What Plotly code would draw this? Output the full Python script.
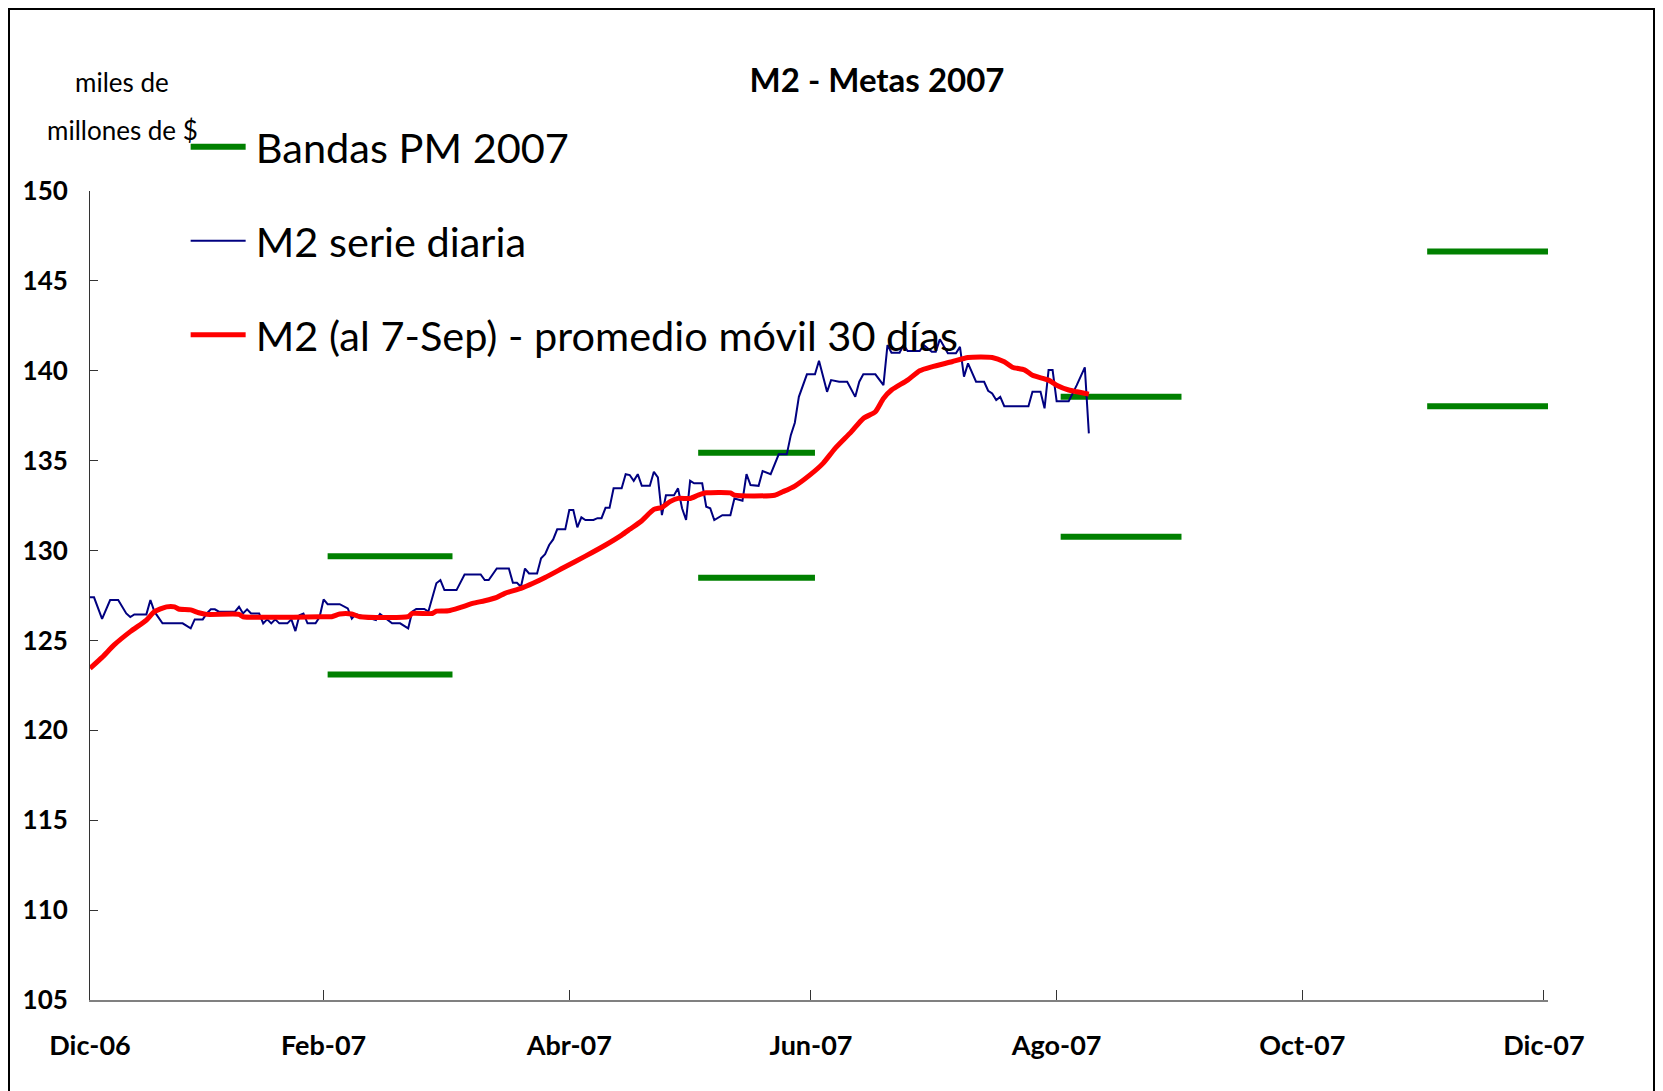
import plotly.graph_objects as go

# ---------------- data ----------------
blue_dates = [
    "2006-12-05", "2006-12-06", "2006-12-08", "2006-12-10", "2006-12-12", "2006-12-14", "2006-12-15",
    "2006-12-16", "2006-12-19", "2006-12-20", "2006-12-21", "2006-12-23", "2006-12-28", "2006-12-30",
    "2006-12-31",
    "2007-01-02", "2007-01-03", "2007-01-04", "2007-01-05", "2007-01-06", "2007-01-10", "2007-01-11",
    "2007-01-12", "2007-01-13", "2007-01-14", "2007-01-16", "2007-01-17", "2007-01-18", "2007-01-19",
    "2007-01-20", "2007-01-21", "2007-01-23", "2007-01-24", "2007-01-25", "2007-01-26", "2007-01-27",
    "2007-01-28", "2007-01-30", "2007-01-31",
    "2007-02-01", "2007-02-02", "2007-02-05", "2007-02-07", "2007-02-08", "2007-02-09", "2007-02-10",
    "2007-02-12", "2007-02-14", "2007-02-15", "2007-02-16", "2007-02-18", "2007-02-20", "2007-02-22",
    "2007-02-23", "2007-02-24", "2007-02-26", "2007-02-27",
    "2007-03-01", "2007-03-02", "2007-03-03", "2007-03-06", "2007-03-08", "2007-03-12", "2007-03-13",
    "2007-03-14", "2007-03-16", "2007-03-19", "2007-03-20", "2007-03-21", "2007-03-22", "2007-03-23",
    "2007-03-24", "2007-03-26", "2007-03-27", "2007-03-28", "2007-03-29", "2007-03-30", "2007-03-31",
    "2007-04-02", "2007-04-03", "2007-04-04", "2007-04-05", "2007-04-06", "2007-04-07", "2007-04-09",
    "2007-04-10", "2007-04-11", "2007-04-12", "2007-04-13", "2007-04-14", "2007-04-16", "2007-04-17",
    "2007-04-18", "2007-04-19", "2007-04-20", "2007-04-21", "2007-04-23", "2007-04-24", "2007-04-25",
    "2007-04-26", "2007-04-27", "2007-04-29", "2007-04-30",
    "2007-05-01", "2007-05-02", "2007-05-03", "2007-05-04", "2007-05-06", "2007-05-07", "2007-05-08",
    "2007-05-09", "2007-05-11", "2007-05-13", "2007-05-14", "2007-05-16", "2007-05-17", "2007-05-18",
    "2007-05-20", "2007-05-21", "2007-05-23", "2007-05-25", "2007-05-27", "2007-05-28", "2007-05-29",
    "2007-05-30",
    "2007-06-01", "2007-06-03", "2007-06-04", "2007-06-06", "2007-06-07", "2007-06-09", "2007-06-11",
    "2007-06-13", "2007-06-14", "2007-06-15", "2007-06-18", "2007-06-19", "2007-06-20", "2007-06-21",
    "2007-06-22", "2007-06-24", "2007-06-25", "2007-06-26", "2007-06-29", "2007-06-30",
    "2007-07-02", "2007-07-03", "2007-07-04", "2007-07-06", "2007-07-08", "2007-07-09", "2007-07-10",
    "2007-07-11", "2007-07-13", "2007-07-15", "2007-07-16", "2007-07-17", "2007-07-18", "2007-07-19",
    "2007-07-20", "2007-07-26", "2007-07-27", "2007-07-29", "2007-07-30", "2007-07-31",
    "2007-08-01", "2007-08-02", "2007-08-05", "2007-08-07", "2007-08-09", "2007-08-10",
]
blue_values = [
    127.4, 127.4, 126.2, 127.25, 127.25, 126.5, 126.3, 126.45, 126.45, 127.25, 126.6, 125.95, 125.95,
    125.67, 126.17,
    126.17, 126.5, 126.73, 126.73, 126.6, 126.6, 126.87, 126.5, 126.73, 126.5, 126.5, 125.95, 126.17,
    125.95, 126.17, 125.95, 125.95, 126.17, 125.52, 126.4, 126.5, 125.95, 125.95, 126.3,
    127.28, 127.02, 127.02, 126.78, 126.22, 126.47, 126.4, 126.3, 126.13, 126.47, 126.3, 125.95, 125.95,
    125.67, 126.6, 126.75, 126.75, 126.6,
    128.18, 128.36, 127.8, 127.8, 128.67, 128.67, 128.36, 128.36, 129.0, 129.0, 128.21, 128.21, 127.99,
    129.0, 128.73, 128.73, 129.57, 129.8, 130.31, 130.62, 131.18,
    131.18, 132.25, 132.25, 131.29, 131.85, 131.7, 131.7, 131.8, 131.8, 132.38, 132.38, 133.46, 133.46,
    134.25, 134.2, 133.88, 134.25, 133.6, 133.6, 134.38, 134.07, 131.97, 133.08, 133.08, 133.46,
    132.35, 131.7, 133.88, 133.74, 133.74, 132.44, 132.35, 131.7, 131.97, 131.97, 132.9, 132.77, 134.25,
    133.64, 133.6, 134.42, 134.25, 135.35, 135.35, 136.42, 137.11, 138.55,
    139.8, 139.8, 140.56, 138.83, 139.48, 139.39, 139.39, 138.55, 139.39, 139.8, 139.8, 139.48, 139.2,
    141.43, 141.0, 141.0, 141.43, 141.1, 141.1, 141.43,
    141.06, 141.06, 141.75, 140.97, 140.97, 141.33, 139.67, 140.41, 139.39, 139.39, 138.89, 138.74,
    138.37, 138.55, 138.03, 138.03, 138.83, 138.83, 137.91, 140.04,
    140.04, 138.31, 138.31, 139.2, 140.19, 136.52,
]

red_dates = [
    "2006-12-05", "2006-12-08", "2006-12-11", "2006-12-15", "2006-12-19", "2006-12-21", "2006-12-24",
    "2006-12-26", "2006-12-27", "2006-12-30", "2007-01-01", "2007-01-03", "2007-01-11", "2007-01-12",
    "2007-01-31", "2007-02-03", "2007-02-05", "2007-02-08", "2007-02-10", "2007-02-22", "2007-02-23",
    "2007-02-28", "2007-03-01", "2007-03-04", "2007-03-07", "2007-03-10", "2007-03-13", "2007-03-16",
    "2007-03-18", "2007-03-22", "2007-03-25", "2007-03-28", "2007-04-02", "2007-04-07", "2007-04-12",
    "2007-04-16", "2007-04-18", "2007-04-21", "2007-04-24", "2007-04-26", "2007-04-28", "2007-04-30",
    "2007-05-03", "2007-05-05", "2007-05-07", "2007-05-13", "2007-05-14", "2007-05-24", "2007-05-26",
    "2007-05-29", "2007-06-02", "2007-06-05", "2007-06-08", "2007-06-12", "2007-06-15", "2007-06-18",
    "2007-06-20", "2007-06-22", "2007-06-26", "2007-06-29", "2007-07-02", "2007-07-07", "2007-07-11",
    "2007-07-17", "2007-07-20", "2007-07-22", "2007-07-25", "2007-07-27", "2007-07-31", "2007-08-02",
    "2007-08-05", "2007-08-07", "2007-08-10",
]
red_values = [
    123.45, 124.06, 124.75, 125.49, 126.13, 126.6, 126.87, 126.87, 126.75, 126.7, 126.54, 126.45, 126.45,
    126.32, 126.32, 126.32, 126.47, 126.47, 126.32, 126.32, 126.5, 126.5, 126.63, 126.65, 126.84, 127.06,
    127.21, 127.4, 127.62, 127.9, 128.18, 128.5, 129.1, 129.69, 130.31, 130.86, 131.18, 131.66, 132.29,
    132.4, 132.72, 132.9, 132.9, 133.08, 133.21, 133.21, 133.08, 133.08, 133.27, 133.59, 134.25, 134.85,
    135.68, 136.6, 137.35, 137.72, 138.46, 138.93, 139.48, 140.0, 140.22, 140.5, 140.74, 140.74, 140.5,
    140.2, 140.05, 139.75, 139.48, 139.2, 138.93, 138.83, 138.7,
]

band_start = ["2007-02-02", "2007-05-05", "2007-08-03", "2007-11-02"]
band_end = ["2007-03-05", "2007-06-03", "2007-09-02", "2007-12-02"]
band_upper = [129.69, 135.44, 138.55, 146.64]
band_lower = [123.1, 128.49, 130.77, 138.03]

# tick marks sit at evenly spaced dates (as in the original spreadsheet axis)
tick_dates = ["2006-12-05", "2007-02-01", "2007-04-03", "2007-06-02", "2007-08-02", "2007-10-02", "2007-12-01"]
tick_labels = ["Dic-06", "Feb-07", "Abr-07", "Jun-07", "Ago-07", "Oct-07", "Dic-07"]
y_ticks = [105, 110, 115, 120, 125, 130, 135, 140, 145, 150]

# ---------------- build band trace ----------------
bx, by = [], []
for s, e, u, l in zip(band_start, band_end, band_upper, band_lower):
    bx += [s, e, None, s, e, None]
    by += [u, u, None, l, l, None]

FONT = "Lato, 'Open Sans', sans-serif"

# page body has an 8px margin; figure is offset by it
W, H = 1647, 1083
ML, MR, MT, MB = 82, 107, 183, 91
PW = W - ML - MR
PH = H - MT - MB


def px_x(v):
    return (v - ML) / PW


def px_y(v):
    return (H - MB - v) / PH


TS = "\u2009"  # thin space between legend symbol and text

fig = go.Figure()
fig.add_trace(go.Scatter(x=bx, y=by, mode="lines", name=TS + "Bandas PM 2007",
                         line=dict(color="#008000", width=6), legendgroup="g1",
                         connectgaps=False))
fig.add_trace(go.Scatter(x=blue_dates, y=blue_values, mode="lines", name=TS + "M2 serie diaria",
                         line=dict(color="#000080", width=2), legendgroup="g2"))
fig.add_trace(go.Scatter(x=red_dates, y=red_values, mode="lines",
                         name=TS + "M2 (al 7-Sep) - promedio móvil 30 días",
                         line=dict(color="#FF0000", width=5, shape="spline", smoothing=0.6),
                         legendgroup="g3"))

fig.update_layout(
    width=W, height=H,
    margin=dict(l=ML, r=MR, t=MT, b=MB),
    paper_bgcolor="white", plot_bgcolor="white",
    font=dict(family=FONT, color="black"),
    title=dict(text="<b>M2 - Metas 2007</b>", x=px_x(869), xref="paper", xanchor="center",
               y=1 - 72 / H, yref="container", yanchor="middle",
               font=dict(size=33, family=FONT, color="black")),
    showlegend=True,
    legend=dict(x=0.0656, y=1.096, xanchor="left", yanchor="top",
                bgcolor="rgba(0,0,0,0)", font=dict(size=41.5, family=FONT, color="black"),
                tracegroupgap=37, traceorder="grouped", itemwidth=55),
    xaxis=dict(type="date", range=["2006-12-05", "2007-12-02"],
               tickmode="array", tickvals=tick_dates, ticktext=tick_labels,
               ticks="inside", ticklen=10, tickcolor="#333333", tickwidth=1,
               showline=True, linecolor="#808080", linewidth=2,
               showgrid=False, zeroline=False,
               tickfont=dict(size=27, family=FONT, color="black", weight="bold"),
               ticklabelstandoff=21),
    yaxis=dict(range=[105, 150], tickmode="array", tickvals=y_ticks,
               ticks="inside", ticklen=8, tickcolor="#333333", tickwidth=1,
               showline=True, linecolor="#333333", linewidth=1,
               showgrid=False, zeroline=False,
               tickfont=dict(size=26, family=FONT, color="black", weight="bold"),
               ticklabelstandoff=16),
    annotations=[
        dict(text="miles de", x=px_x(114), y=px_y(74), xref="paper", yref="paper",
             xanchor="center", yanchor="middle", showarrow=False,
             font=dict(size=26, family=FONT, color="black")),
        dict(text="millones de $", x=px_x(114), y=px_y(122), xref="paper", yref="paper",
             xanchor="center", yanchor="middle", showarrow=False,
             font=dict(size=26, family=FONT, color="black")),
    ],
    shapes=[
        dict(type="rect", xref="paper", yref="paper",
             x0=px_x(1), x1=px_x(1646), y0=px_y(H + 40), y1=px_y(1),
             line=dict(color="black", width=2), fillcolor="rgba(0,0,0,0)", layer="below"),
    ],
)

fig.write_html("out.html")
